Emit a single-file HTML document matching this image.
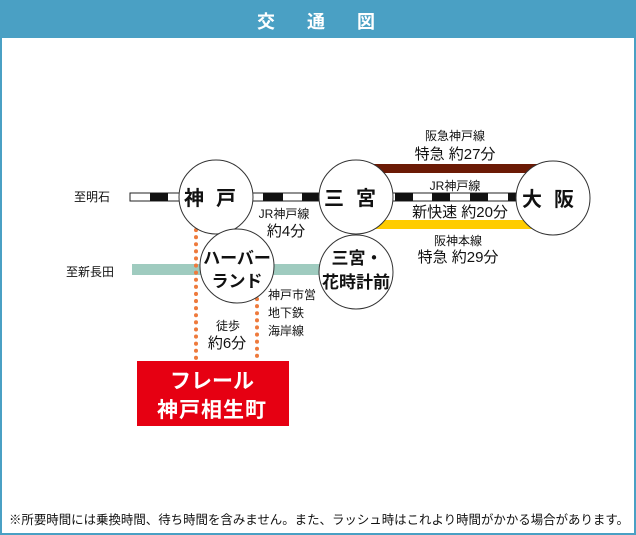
<!DOCTYPE html>
<html><head><meta charset="utf-8"><style>
html,body{margin:0;padding:0;background:#fff}
svg{display:block}
text{font-family:"Liberation Sans","Noto Sans CJK JP",sans-serif;fill:#111}
</style></head><body>
<svg width="636" height="535" viewBox="0 0 636 535" xmlns="http://www.w3.org/2000/svg">
<rect x="1" y="1" width="634" height="533" fill="#fff" stroke="#4aa0c4" stroke-width="2"/>
<rect x="0" y="0" width="636" height="38" fill="#4aa0c4"/>
<text x="257" y="28" font-size="18" font-weight="bold" style="fill:#fff">交</text>
<text x="307" y="28" font-size="18" font-weight="bold" style="fill:#fff">通</text>
<text x="357" y="28" font-size="18" font-weight="bold" style="fill:#fff">図</text>

<rect x="370" y="164" width="170" height="9" fill="#6b1a05"/>
<rect x="370" y="220" width="170" height="9" fill="#ffcc00"/>
<rect x="132" y="264" width="190" height="11" fill="#9fcbbf"/>
<rect x="130" y="193" width="400" height="8" fill="#fff" stroke="#222" stroke-width="1"/>
<g fill="#111">
<rect x="150" y="193" width="18" height="8"/>
<rect x="263" y="193" width="20" height="8"/>
<rect x="302" y="193" width="18" height="8"/>
<rect x="395" y="193" width="18" height="8"/>
<rect x="432" y="193" width="18" height="8"/>
<rect x="470" y="193" width="18" height="8"/>
<rect x="508" y="193" width="18" height="8"/>
</g>
<line x1="196" y1="230" x2="196" y2="360" stroke="#ee7a3c" stroke-width="4" stroke-dasharray="0.1 7" stroke-linecap="round"/>
<line x1="257" y1="299" x2="257" y2="360" stroke="#ee7a3c" stroke-width="4" stroke-dasharray="0.1 7" stroke-linecap="round"/>

<g fill="#fff" stroke="#333" stroke-width="1">
<circle cx="216" cy="197" r="37"/>
<circle cx="356" cy="197" r="37"/>
<circle cx="553" cy="198" r="37"/>
<circle cx="237" cy="266" r="37"/>
<circle cx="356" cy="272" r="37"/>
</g>
<g font-size="20" font-weight="bold">
<text x="216" y="205" text-anchor="middle" letter-spacing="12">神戸</text>
<text x="356" y="205" text-anchor="middle" letter-spacing="12">三宮</text>
<text x="554" y="206" text-anchor="middle" letter-spacing="12">大阪</text>
</g>
<g font-size="17" text-anchor="middle" font-weight="bold">
<text x="237" y="264">ハーバー</text>
<text x="237" y="287">ランド</text>
<text x="357" y="264">三宮・</text>
<text x="356" y="288">花時計前</text>
</g>
<g font-size="12">
<text x="74" y="201">至明石</text>
<text x="66" y="276">至新長田</text>
<text x="284" y="218" text-anchor="middle">JR神戸線</text>
<text x="286" y="236" text-anchor="middle" font-size="15">約4分</text>
<text x="455" y="140" text-anchor="middle">阪急神戸線</text>
<text x="455" y="159" text-anchor="middle" font-size="15">特急 約27分</text>
<text x="455" y="190" text-anchor="middle">JR神戸線</text>
<text x="460" y="217" text-anchor="middle" font-size="15">新快速 約20分</text>
<text x="458" y="245" text-anchor="middle">阪神本線</text>
<text x="458" y="262" text-anchor="middle" font-size="15">特急 約29分</text>
<text x="268" y="299">神戸市営</text>
<text x="268" y="317">地下鉄</text>
<text x="268" y="335">海岸線</text>
<text x="228" y="330" text-anchor="middle">徒歩</text>
<text x="227" y="348" text-anchor="middle" font-size="15">約6分</text>
</g>
<rect x="137" y="361" width="152" height="65" fill="#e60012"/>
<text x="212" y="388" text-anchor="middle" font-size="21" font-weight="bold" style="fill:#fff">フレール</text>
<text x="212" y="417" text-anchor="middle" font-size="21" font-weight="bold" style="fill:#fff" letter-spacing="1">神戸相生町</text>
<text x="9" y="524" font-size="12.5" textLength="620" lengthAdjust="spacingAndGlyphs">※所要時間には乗換時間、待ち時間を含みません。また、ラッシュ時はこれより時間がかかる場合があります。</text>
</svg>
</body></html>
